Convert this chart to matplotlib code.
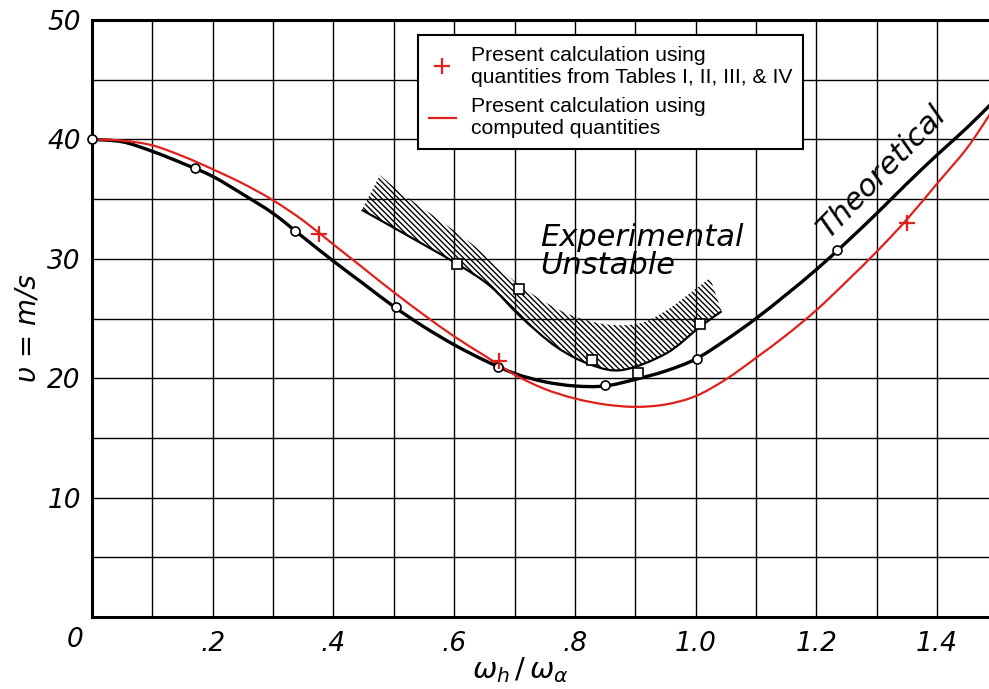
import matplotlib
matplotlib.use('Agg')
import matplotlib.pyplot as plt
from matplotlib.lines import Line2D
from matplotlib.path import Path
from matplotlib.patches import PathPatch
import numpy as np

# ---------------- data ----------------
theory_x = [0.0, 0.05, 0.1, 0.15, 0.2, 0.25, 0.3, 0.35, 0.4, 0.45, 0.5, 0.55, 0.6, 0.65,
            0.7, 0.75, 0.8, 0.85, 0.9, 0.95, 1.0, 1.05, 1.1, 1.15, 1.2, 1.25, 1.3, 1.35,
            1.4, 1.45, 1.49]
theory_v = [40.0, 39.8, 39.0, 38.0, 36.9, 35.4, 33.8, 31.8, 29.8, 27.9, 26.0, 24.3, 22.8, 21.5,
            20.4, 19.7, 19.35, 19.35, 19.9, 20.6, 21.6, 23.2, 25.0, 27.0, 29.1, 31.4, 33.8, 36.3,
            38.7, 41.0, 43.0]

computed_x = [0.0, 0.05, 0.1, 0.15, 0.2, 0.25, 0.3, 0.35, 0.4, 0.45, 0.5, 0.55, 0.6, 0.65,
              0.7, 0.75, 0.8, 0.85, 0.9, 0.95, 1.0, 1.05, 1.1, 1.15, 1.2, 1.25, 1.3, 1.35,
              1.4, 1.45, 1.49]
computed_v = [40.0, 39.9, 39.5, 38.6, 37.5, 36.3, 34.9, 33.2, 31.2, 29.2, 27.2, 25.3, 23.5, 21.9,
              20.3, 19.1, 18.3, 17.8, 17.6, 17.8, 18.5, 19.9, 21.7, 23.6, 25.7, 28.1, 30.6, 33.3,
              36.3, 39.3, 42.3]

theory_pts_x = [0.0, 0.171, 0.336, 0.504, 0.673, 0.85, 1.002, 1.235]
theory_pts_v = [40.0, 37.6, 32.3, 26.0, 20.9, 19.4, 21.6, 30.7]

tables_x = [0.376, 0.675, 1.35]
tables_v = [32.1, 21.4, 33.0]

exp_x = [0.605, 0.708, 0.828, 0.905, 1.007]
exp_v = [29.6, 27.5, 21.5, 20.4, 24.5]

band_low_x = [0.447, 0.521, 0.604, 0.66, 0.709, 0.77, 0.828, 0.88, 0.952, 1.007, 1.043]
band_low_v = [34.1, 32.0, 29.6, 27.7, 25.2, 22.6, 21.1, 20.7, 22.1, 24.3, 25.6]
band_up_x = [1.024, 0.99, 0.952, 0.908, 0.853, 0.798, 0.753, 0.698, 0.643, 0.577, 0.521, 0.477]
band_up_v = [28.4, 27.1, 25.7, 24.6, 24.5, 25.2, 26.3, 28.2, 30.7, 33.2, 35.2, 37.0]

x_ticks = [0.2, 0.4, 0.6, 0.8, 1.0, 1.2, 1.4]
x_tick_labels = ['.2', '.4', '.6', '.8', '1.0', '1.2', '1.4']
y_ticks = [10, 20, 30, 40, 50]
y_tick_labels = ['10', '20', '30', '40', '50']

legend_labels = ['Present calculation using\nquantities from Tables I, II, III, & IV',
                 'Present calculation using\ncomputed quantities']


def bezier_parts(xs, ys):
    """Bezier segments through the given points (Catmull-Rom tangents)."""
    pts = np.column_stack([xs, ys]).astype(float)
    verts, codes = [], []
    n = len(pts)
    for i in range(n - 1):
        p0 = pts[i - 1] if i > 0 else pts[i]
        p1 = pts[i]
        p2 = pts[i + 1]
        p3 = pts[i + 2] if i + 2 < n else pts[i + 1]
        verts += [p1 + (p2 - p0) / 6.0, p2 - (p3 - p1) / 6.0, p2]
        codes += [Path.CURVE4] * 3
    return pts, verts, codes


def smooth_path(xs, ys):
    pts, v, c = bezier_parts(xs, ys)
    return Path([pts[0]] + v, [Path.MOVETO] + c)


def band_path(lx, ly, ux, uy):
    lp, lv, lc = bezier_parts(lx, ly)
    up, uv, uc = bezier_parts(ux, uy)
    verts = [lp[0]] + lv + [up[0]] + uv + [lp[0]]
    codes = [Path.MOVETO] + lc + [Path.LINETO] + uc + [Path.CLOSEPOLY]
    return Path(verts, codes)


# ---------------- figure ----------------
plt.rcParams['hatch.linewidth'] = 1.0
W, H = 989, 689
fig = plt.figure(figsize=(W / 100, H / 100), dpi=100)
ax = fig.add_axes([92 / W, 72 / H, (W - 92) / W, (617 - 20) / H])
ax.set_xlim(0, 1.486)
ax.set_ylim(0, 50)

ax.set_xticks(x_ticks)
ax.set_xticklabels(x_tick_labels)
ax.set_xticks(np.arange(0.1, 1.45, 0.1), minor=True)
ax.set_yticks(y_ticks)
ax.set_yticklabels(y_tick_labels)
ax.set_yticks(np.arange(5, 50, 5), minor=True)
ax.grid(True, which='both', color='black', linewidth=1.0)
ax.set_axisbelow(True)
ax.tick_params(which='both', length=0)
ax.tick_params(axis='x', pad=10)
ax.tick_params(axis='y', pad=8)
for lab in ax.get_xticklabels() + ax.get_yticklabels():
    lab.set_fontsize(19)
    lab.set_fontstyle('italic')
    lab.set_family('DejaVu Sans')
ax.text(-0.028, -1.9, '0', fontsize=19, style='italic', ha='center', va='center', clip_on=False)

for s in ['left', 'bottom', 'top']:
    ax.spines[s].set_linewidth(2.2)
    ax.spines[s].set_color('black')
ax.spines['right'].set_visible(False)

# hatched experimental band
ax.add_patch(PathPatch(band_path(band_low_x, band_low_v, band_up_x, band_up_v),
                       facecolor='none', edgecolor='black', linewidth=0,
                       hatch='\\' * 6, zorder=2))
ax.add_patch(PathPatch(smooth_path(band_low_x, band_low_v), facecolor='none',
                       edgecolor='black', linewidth=1.6, zorder=2))

# curves
ax.add_patch(PathPatch(smooth_path(theory_x, theory_v), facecolor='none',
                       edgecolor='black', linewidth=2.4, zorder=3))
ax.add_patch(PathPatch(smooth_path(computed_x, computed_v), facecolor='none',
                       edgecolor='#e0201b', linewidth=1.6, zorder=4))

ax.plot(theory_pts_x, theory_pts_v, linestyle='none', marker='o', markersize=6.5,
        markerfacecolor='white', markeredgecolor='black', markeredgewidth=1.2, zorder=5, clip_on=False)
ax.plot(exp_x, exp_v, linestyle='none', marker='s', markersize=7,
        markerfacecolor='white', markeredgecolor='black', markeredgewidth=1.2, zorder=5)
ax.plot(tables_x, tables_v, linestyle='none', marker='+', markersize=12,
        markeredgecolor='#e0201b', markeredgewidth=1.6, zorder=6)

# annotations
ax.text(0.742, 30.6, 'Experimental\nUnstable', fontsize=22, style='italic', ha='left', va='center',
        linespacing=0.95, zorder=7)
ax.text(1.308, 37.3, 'Theoretical', fontsize=22, style='italic', ha='center', va='center',
        rotation=46, rotation_mode='anchor', zorder=7)

fig.text(27 / W, 1 - 328 / H, 'υ = m/s', fontsize=20, style='italic', rotation=90,
         ha='center', va='center')
fig.text(520 / W, 1 - 670 / H, r'$\omega_h\,/\,\omega_\alpha$', fontsize=21,
         ha='center', va='center')

# legend
handles = [Line2D([], [], linestyle='none', marker='+', markersize=12,
                  markeredgecolor='#e0201b', markeredgewidth=1.6),
           Line2D([], [], color='#e0201b', linewidth=1.6)]
leg = fig.legend(handles, legend_labels, loc='upper left',
                 bbox_to_anchor=(418 / W, 1 - 35 / H), borderaxespad=0,
                 prop={'family': 'Liberation Sans', 'size': 15.2},
                 frameon=True, fancybox=False, edgecolor='black', framealpha=1,
                 handlelength=1.3, handletextpad=0.7, labelspacing=0.5,
                 borderpad=0.5)
leg.get_frame().set_linewidth(1.5)
for t in leg.get_texts():
    t.set_linespacing(1.2)

fig.savefig('out.png', dpi=100)
